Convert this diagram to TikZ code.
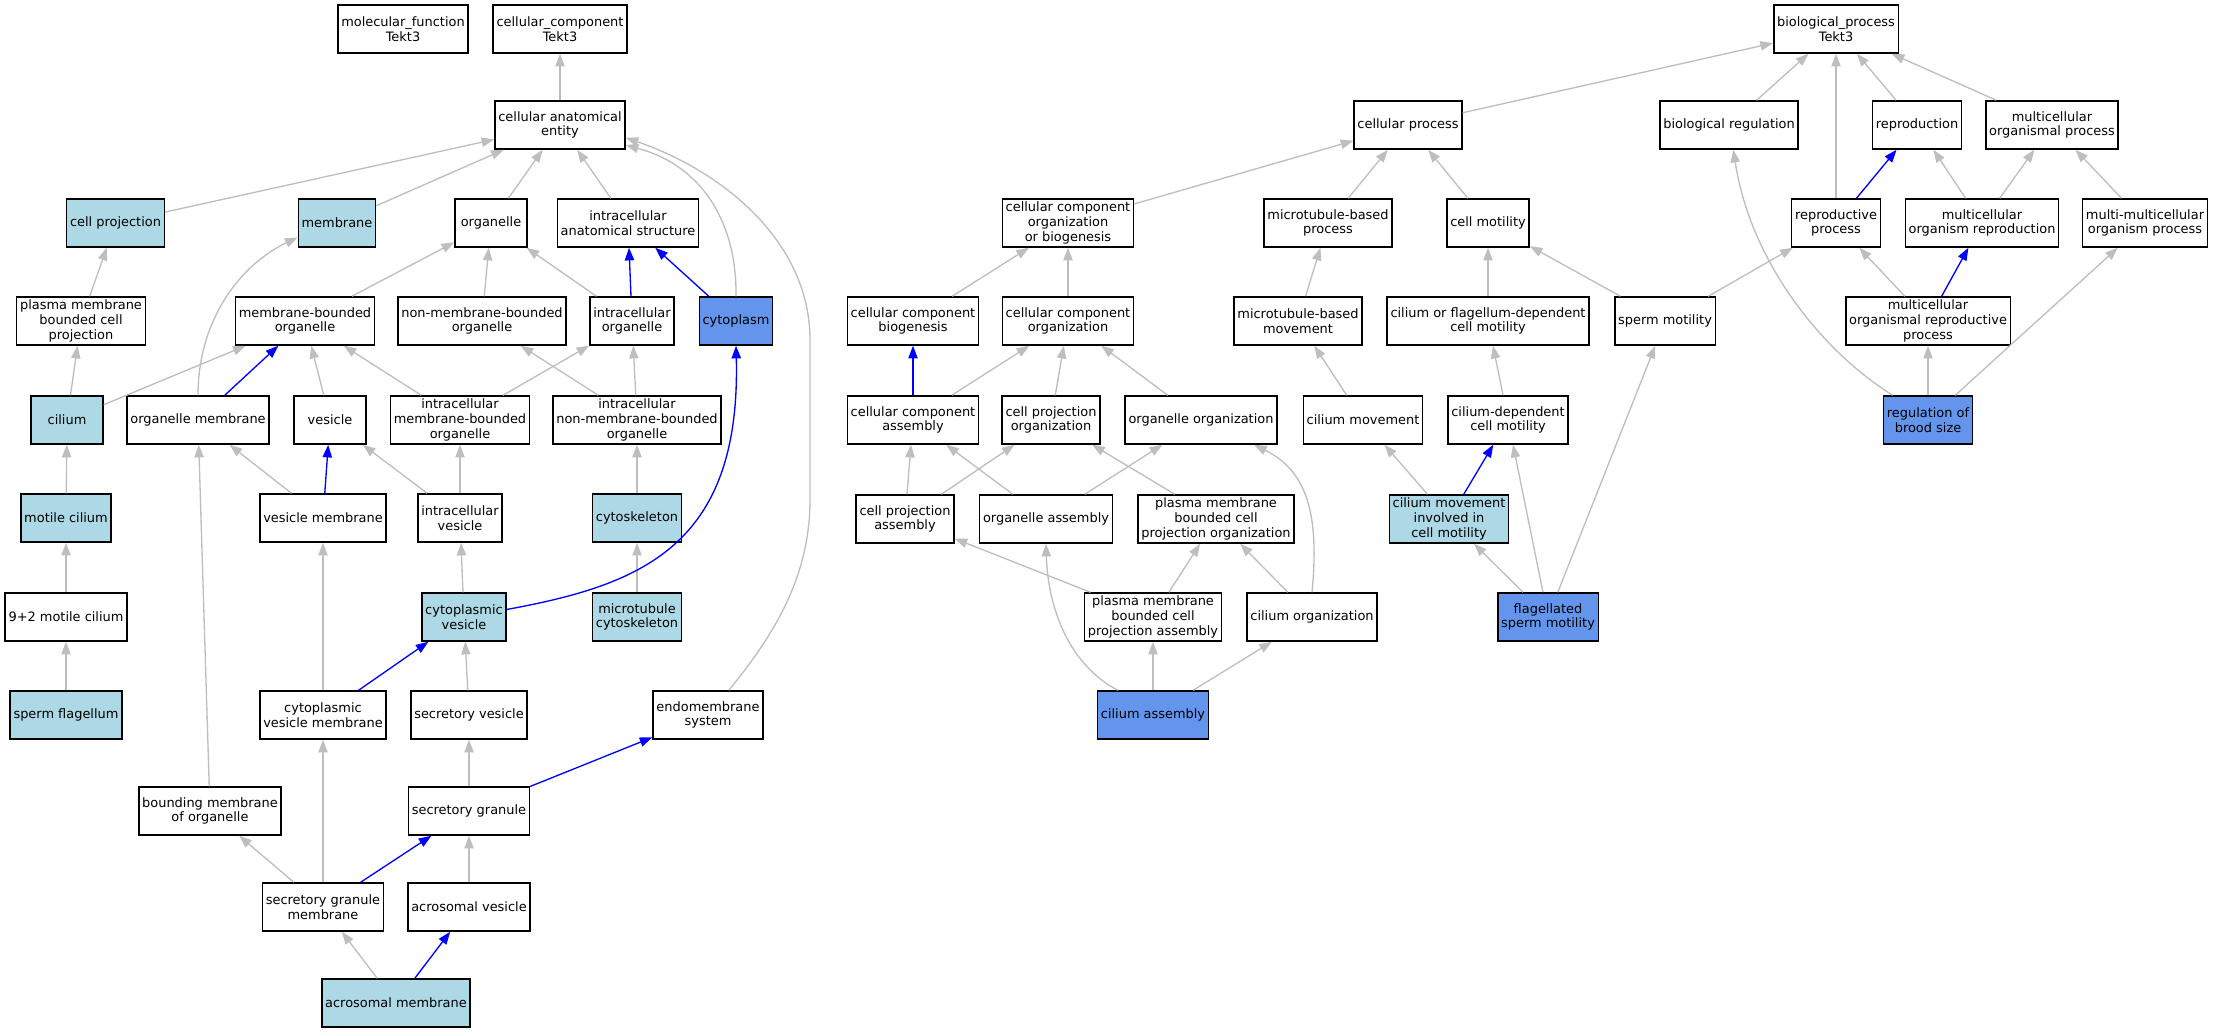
\documentclass[tikz,border=0pt]{standalone}
\usepackage{fontspec}
\setmainfont{DejaVu Sans}
\usetikzlibrary{arrows.meta}
\definecolor{lightblue}{RGB}{173,216,230}
\definecolor{cornflower}{RGB}{100,149,237}
\definecolor{edgegray}{RGB}{190,190,190}

\begin{document}
\begin{tikzpicture}[x=0.75pt,y=-0.75pt,->,>={Triangle[length=9.5pt,width=7pt]},line width=1pt,
    term node/.style={draw=black,line width=1.1pt,fill=white,align=center,font=\fontsize{9.7}{11.1}\selectfont,inner xsep=2.5pt,inner ysep=1.5pt,minimum width=54pt,minimum height=36pt},
    part node/.style={term node,fill=lightblue},
    hit node/.style={term node,fill=cornflower}]
            \useasboundingbox (0,0) rectangle (2213,1032);

            % cellular_component side
            \node[term node] (1) at (403,29) {molecular\_function\\Tekt3};
            \node[term node] (2) at (560,29) {cellular\_component\\Tekt3};
            \node[term node] (3) at (560,125) {cellular anatomical\\entity};

            \node[part node] (4) at (115.5,223) {cell projection};
            \node[part node] (5) at (337,223) {membrane};
            \node[term node] (6) at (491,223) {organelle};
            \node[term node] (7) at (628,223) {intracellular\\anatomical structure};

            \node[term node] (8) at (81,321) {plasma membrane\\bounded cell\\projection};
            \node[term node] (9) at (305,321) {membrane-bounded\\organelle};
            \node[term node] (10) at (482,321) {non-membrane-bounded\\organelle};
            \node[term node] (11) at (632,321) {intracellular\\organelle};
            \node[hit node] (12) at (736,321) {cytoplasm};

            \node[part node] (13) at (67,420) {cilium};
            \node[term node] (14) at (198,420) {organelle membrane};
            \node[term node] (15) at (330,420) {vesicle};
            \node[term node] (16) at (460,420) {intracellular\\membrane-bounded\\organelle};
            \node[term node] (17) at (637,420) {intracellular\\non-membrane-bounded\\organelle};

            \node[part node] (18) at (66,518) {motile cilium};
            \node[term node] (19) at (323,518) {vesicle membrane};
            \node[term node] (20) at (460,518) {intracellular\\vesicle};
            \node[part node] (21) at (637,518) {cytoskeleton};

            \node[term node] (22) at (66,617) {9+2 motile cilium};
            \node[part node] (23) at (464,617) {cytoplasmic\\vesicle};
            \node[part node] (24) at (637,617) {microtubule\\cytoskeleton};

            \node[part node] (25) at (66,715) {sperm flagellum};
            \node[term node] (26) at (323,715) {cytoplasmic\\vesicle membrane};
            \node[term node] (27) at (469,715) {secretory vesicle};
            \node[term node] (28) at (708,715) {endomembrane\\system};

            \node[term node] (29) at (210,811) {bounding membrane\\of organelle};
            \node[term node] (30) at (469,811) {secretory granule};
            \node[term node] (31) at (323,907) {secretory granule\\membrane};
            \node[term node] (32) at (469,907) {acrosomal vesicle};
            \node[part node] (33) at (396,1003) {acrosomal membrane};

            % biological_process side
            \node[term node] (34) at (1836,29) {biological\_process\\Tekt3};
            \node[term node] (35) at (1408,125) {cellular process};
            \node[term node] (36) at (1729,125) {biological regulation};
            \node[term node] (37) at (1917,125) {reproduction};
            \node[term node] (38) at (2052,125) {multicellular\\organismal process};

            \node[term node] (39) at (1068,223) {cellular component\\organization\\or biogenesis};
            \node[term node] (40) at (1328,223) {microtubule-based\\process};
            \node[term node] (41) at (1488,223) {cell motility};
            \node[term node] (42) at (1836,223) {reproductive\\process};
            \node[term node] (43) at (1982,223) {multicellular\\organism reproduction};
            \node[term node] (44) at (2145,223) {multi-multicellular\\organism process};

            \node[term node] (45) at (913,321) {cellular component\\biogenesis};
            \node[term node] (46) at (1068,321) {cellular component\\organization};
            \node[term node] (47) at (1298,321) {microtubule-based\\movement};
            \node[term node] (48) at (1488,321) {cilium or flagellum-dependent\\cell motility};
            \node[term node] (49) at (1665,321) {sperm motility};
            \node[term node] (50) at (1928,321) {multicellular\\organismal reproductive\\process};

            \node[term node] (51) at (913,420) {cellular component\\assembly};
            \node[term node] (52) at (1051,420) {cell projection\\organization};
            \node[term node] (53) at (1201,420) {organelle organization};
            \node[term node] (54) at (1363,420) {cilium movement};
            \node[term node] (55) at (1508,420) {cilium-dependent\\cell motility};
            \node[hit node] (56) at (1928,420) {regulation of\\brood size};

            \node[term node] (57) at (905,519) {cell projection\\assembly};
            \node[term node] (58) at (1046,519) {organelle assembly};
            \node[term node] (59) at (1216,519) {plasma membrane\\bounded cell\\projection organization};
            \node[part node] (60) at (1449,519) {cilium movement\\involved in\\cell motility};

            \node[term node] (61) at (1153,617) {plasma membrane\\bounded cell\\projection assembly};
            \node[term node] (62) at (1312,617) {cilium organization};
            \node[hit node] (63) at (1548,617) {flagellated\\sperm motility};
            \node[hit node] (64) at (1153,715) {cilium assembly};

            \path[every edge/.style={draw=edgegray}]
                (3) edge (2)
                (4) edge (3)
                (5) edge (3)
                (6) edge (3)
                (7) edge (3)
                (8) edge (4)
                (9) edge (6)
                (10) edge (6)
                (11) edge (6)
                (13) edge (8)
                (13) edge (9)
                (15) edge (9)
                (16) edge (9)
                (16) edge (11)
                (17) edge (10)
                (17) edge (11)
                (18) edge (13)
                (19) edge (14)
                (20) edge (15)
                (20) edge (16)
                (21) edge (17)
                (22) edge (18)
                (23) edge (20)
                (24) edge (21)
                (25) edge (22)
                (26) edge (19)
                (27) edge (23)
                (29) edge (14)
                (30) edge (27)
                (31) edge (29)
                (31) edge (26)
                (32) edge (30)
                (33) edge (31)
                (35) edge (34)
                (36) edge (34)
                (37) edge (34)
                (38) edge (34)
                (42) edge (34)
                (39) edge (35)
                (40) edge (35)
                (41) edge (35)
                (43) edge (37)
                (43) edge (38)
                (44) edge (38)
                (45) edge (39)
                (46) edge (39)
                (47) edge (40)
                (48) edge (41)
                (49) edge (41)
                (49) edge (42)
                (50) edge (42)
                (51) edge (46)
                (52) edge (46)
                (53) edge (46)
                (54) edge (47)
                (55) edge (48)
                (57) edge (51)
                (57) edge (52)
                (58) edge (51)
                (58) edge (53)
                (59) edge (52)
                (60) edge (54)
                (61) edge (57)
                (61) edge (59)
                (62) edge (59)
                (63) edge (60)
                (63) edge (55)
                (63) edge (49)
                (64) edge (61)
                (64) edge (62)
                (56) edge (50)
                (56) edge (44)
                ;

            \path[every edge/.style={draw=blue}]
                (11) edge (7)
                (12) edge (7)
                (14) edge (9)
                (19) edge (15)
                (26) edge (23)
                (30) edge (28)
                (31) edge (30)
                (33) edge (32)
                (42) edge (37)
                (50) edge (43)
                (51) edge (45)
                (60) edge (55)
                ;

            % curved ones
            \draw[edgegray] (12.north) .. controls (737,220) and (700,165) .. (3.-17);
            \draw[edgegray] (28.50) .. controls (770,640) and (810,580) .. (810,500) -- (810,340) .. controls (810,240) and (720,170) .. (3.-11);
            \draw[edgegray] (14.north) .. controls (198,320) and (240,265) .. (5.-160);
            \draw[blue] (23.10) .. controls (640,585) and (741,547) .. (12.south);
            \draw[edgegray] (62.north) .. controls (1320,510) and (1305,470) .. (53.-25);
            \draw[edgegray] (64.145) .. controls (1070,665) and (1048,610) .. (58.south);
            \draw[edgegray] (56.145) .. controls (1820,350) and (1750,260) .. (36.-80);
        \end{tikzpicture}
\end{document}
